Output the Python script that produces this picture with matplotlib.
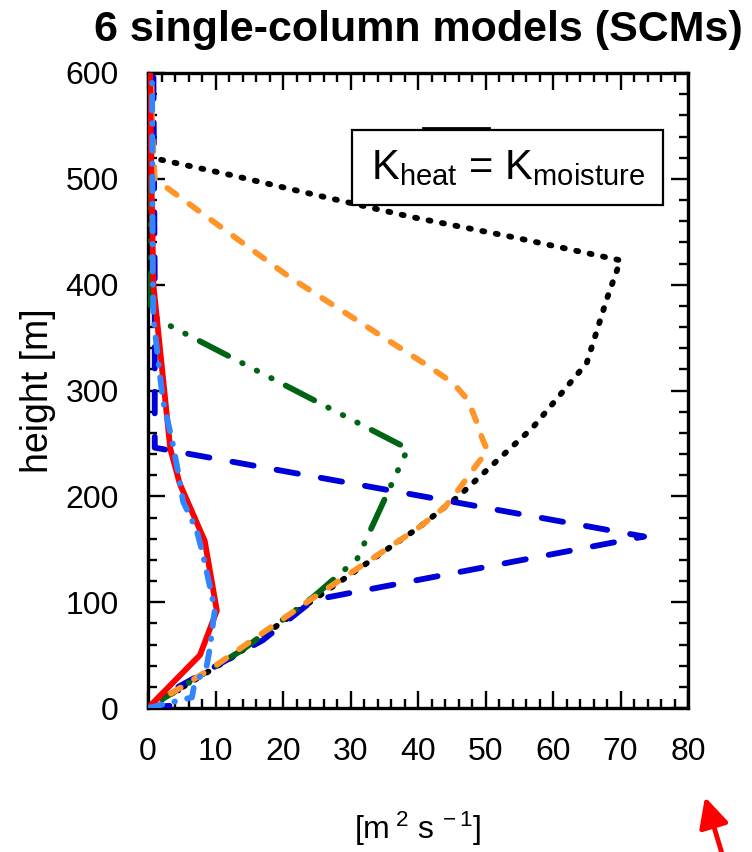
import matplotlib
matplotlib.use("Agg")
import matplotlib.pyplot as plt
from matplotlib.ticker import MultipleLocator
from matplotlib.patches import Rectangle
from matplotlib.lines import Line2D

plt.rcParams['font.family'] = ['Liberation Sans', 'DejaVu Sans']
plt.rcParams['mathtext.fontset'] = 'custom'
plt.rcParams['mathtext.rm'] = 'Liberation Sans'
plt.rcParams['mathtext.it'] = 'Liberation Sans:italic'
plt.rcParams['mathtext.bf'] = 'Liberation Sans:bold'

# Eddy diffusivity profiles K [m2 s-1] versus height [m] for six SCMs
black_k = [0, 13, 24, 40, 46, 57, 65, 68, 70, 54, 39, 24, 12, 0.5, 0.3, 0.3]
black_h = [0, 50, 100, 170, 200, 265, 326, 387, 423, 445, 464, 486, 504, 520, 560, 600]

orange_k = [0, 10, 24, 40, 44, 46.2, 48.7, 50.3, 49.5, 48.7, 47.4, 45.2, 41.3, 21, 1, 0.6, 0.5]
orange_h = [0, 40, 102, 170, 190, 208, 230, 243, 255, 270, 291, 307, 324, 407, 500, 550, 600]

green_k = [0, 14, 24.5, 31, 38.5, 2.1, 0.4, 0.3]
green_h = [0, 55, 105, 141, 245, 365, 372, 600]

blue_k = [0, 4.5, 4.5, 11, 17, 24.5, 73.5, 1, 1, 0.8]
blue_h = [0, 3, 20, 43, 64, 102, 162, 246, 400, 600]

red_k = [0, 7.7, 10.2, 8.4, 4.7, 3.3, 1.8, 0.8, 0.5, 0.3]
red_h = [0, 50, 92, 158, 212, 245, 338, 400, 500, 600]

lblue_k = [0, 6.5, 6.8, 8.7, 9.2, 9.9, 9.2, 8.1, 7.2, 5.2, 4.4, 3.6, 2.2, 1.5, 0.8, 0.7, 0.6]
lblue_h = [0, 10, 20, 40, 58, 93, 114, 146, 168, 195, 225, 252, 291, 329, 369, 414, 600]

x_ticks = [0, 10, 20, 30, 40, 50, 60, 70, 80]
y_ticks = [0, 100, 200, 300, 400, 500, 600]

fig = plt.figure(figsize=(7.52, 8.52), dpi=100)
ax = fig.add_axes([148 / 752, 1 - 708 / 852, 540 / 752, 635 / 852])

lw = 4.2
ax.plot(black_k, black_h, color='black', lw=lw, dashes=(0.35, 2.0),
        dash_capstyle='round', zorder=3)
ax.plot(blue_k, blue_h, color='#0000d8', lw=lw, dashes=(3.7, 4.0),
        dash_capstyle='round', zorder=3.2)
ax.plot(green_k, green_h, color='#006414', lw=lw,
        dashes=(5.5, 2.7, 0.1, 2.7, 0.1, 2.7, 0.1, 2.7),
        dash_capstyle='round', zorder=3.4)
ax.plot(orange_k, orange_h, color='#ff9428', lw=lw, dashes=(1.95, 2.7),
        dash_capstyle='round', zorder=3.6)
ax.plot(red_k, red_h, color='#ff0000', lw=lw, solid_capstyle='round',
        solid_joinstyle='round', zorder=3.8)
ax.plot(lblue_k, lblue_h, color='#2f86ff', lw=lw,
        dashes=(2.5, 2.15, 0.1, 2.15), dash_capstyle='round', zorder=4)

ax.set_xlim(0, 80)
ax.set_ylim(0, 600)
ax.set_xticks(x_ticks)
ax.set_yticks(y_ticks)
ax.xaxis.set_minor_locator(MultipleLocator(2))
ax.yaxis.set_minor_locator(MultipleLocator(20))
ax.tick_params(which='both', direction='in', top=True, right=True,
               labelsize=23, pad=21, width=1.7, color='black')
ax.tick_params(which='major', length=12.5)
ax.tick_params(which='minor', length=6.5)
for sp in ax.spines.values():
    sp.set_linewidth(2.4)

ax.set_ylabel('height [m]', fontsize=27)
ax.yaxis.set_label_coords(-0.17, 0.5)
ax.set_xlabel(r'[m$^{\mathregular{\;2}}$ s$^{\mathregular{\;-1}}$]', fontsize=23)
ax.xaxis.set_label_coords(0.5, -0.16)

# label box
ax.add_patch(Rectangle((0.378, 0.792), 0.576, 0.118, transform=ax.transAxes,
                       facecolor='white', edgecolor='black', lw=1.6, zorder=6))
ax.add_line(Line2D([0.509, 0.631], [0.913, 0.913], transform=ax.transAxes,
                   color='black', lw=2.0, zorder=6))
ax.text(0.666, 0.851, r'K$_{\mathregular{heat}}$ = K$_{\mathregular{moisture}}$',
        transform=ax.transAxes, ha='center', va='center', fontsize=30, zorder=7)

fig.text(418 / 752, 1 - 30 / 852, '6 single-column models (SCMs)',
         ha='center', va='center', fontsize=31, fontweight='bold')

ax.annotate('', xy=(705, 55), xytext=(723, -5), xycoords='figure pixels',
            textcoords='figure pixels', annotation_clip=False,
            arrowprops=dict(arrowstyle='-|>', color='red', lw=3.5,
                            mutation_scale=45, shrinkA=0, shrinkB=0))

fig.savefig('out.png', dpi=100)
